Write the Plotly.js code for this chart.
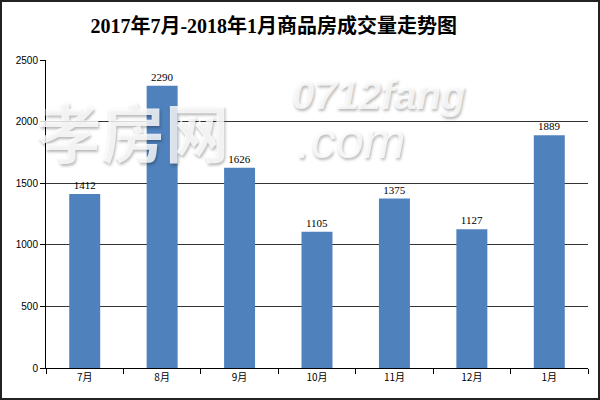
<!DOCTYPE html>
<html><head><meta charset="utf-8">
<script src="https://cdn.plot.ly/plotly-3.0.1.min.js"></script>
<style>
html,body{margin:0;padding:0;background:#fff;}
#wrap{width:600px;height:400px;box-sizing:border-box;border:2px solid #222;}
#chart{width:596px;height:396px;}
</style></head>
<body><div id="wrap"><div id="chart"></div></div>
<script>
const categories = ["7月","8月","9月","10月","11月","12月","1月"];
const values = [1412, 2290, 1626, 1105, 1375, 1127, 1889];
const yTicks = [0, 500, 1000, 1500, 2000, 2500];
const titleText = "2017年7月-2018年1月商品房成交量走势图";

const trace = {
  type: "bar",
  x: categories,
  y: values,
  marker: {color: "#4F81BD"},
  width: 0.4,
  text: values.map(String),
  textposition: "outside",
  textfont: {family: "Liberation Serif, serif", size: 11, color: "#000"},
  cliponaxis: false,
  hoverinfo: "none"
};

const wmShadow = "1px 2px 3px rgba(0,0,0,0.35)";
const layout = {
  width: 596, height: 396,
  margin: {l: 44, r: 10, t: 58, b: 30},
  paper_bgcolor: "#fff", plot_bgcolor: "#fff",
  showlegend: false,
  bargap: 0.6,
  title: {
    text: titleText,
    font: {family: "Liberation Serif, Noto Sans CJK SC, serif", size: 20, color: "#000", weight: "bold"},
    xref: "container", yref: "container",
    x: 0.456, xanchor: "center", y: 0.94, yanchor: "middle"
  },
  xaxis: {
    type: "category",
    tickson: "boundaries",
    ticks: "outside", ticklen: 5, tickcolor: "#000",
    showline: true, linecolor: "#000", linewidth: 1,
    showgrid: false,
    tickfont: {family: "Noto Sans CJK SC, sans-serif", size: 10, color: "#000"},
    fixedrange: true
  },
  yaxis: {
    range: [0, 2500],
    tickvals: yTicks,
    ticktext: yTicks.map(String),
    ticks: "outside", ticklen: 5, tickcolor: "#000",
    showline: true, linecolor: "#000", linewidth: 1,
    showgrid: true, gridcolor: "#333", gridwidth: 1,
    zeroline: false,
    tickfont: {family: "Liberation Sans, sans-serif", size: 10, color: "#000"},
    fixedrange: true
  },
  annotations: [
    {text: "孝房网", xref: "paper", yref: "paper", x: -0.02, y: 0.932, xanchor: "left", yanchor: "top",
     showarrow: false, font: {family: "Noto Sans CJK SC", size: 64, color: "rgba(255,255,255,0.82)", weight: "bold", shadow: wmShadow}},
    {text: "<i>0712fang</i>", xref: "paper", yref: "paper", x: 0.45, y: 0.965, xanchor: "left", yanchor: "top",
     showarrow: false, font: {family: "Liberation Sans", size: 40, color: "rgba(255,255,255,0.82)", weight: "bold", shadow: wmShadow}},
    {text: "<i>.com</i>", xref: "paper", yref: "paper", x: 0.46, y: 0.835, xanchor: "left", yanchor: "top",
     showarrow: false, font: {family: "Liberation Sans", size: 50, color: "rgba(255,255,255,0.82)", shadow: wmShadow}}
  ]
};

Plotly.newPlot("chart", [trace], layout, {displayModeBar: false, staticPlot: true});
</script></body></html>
